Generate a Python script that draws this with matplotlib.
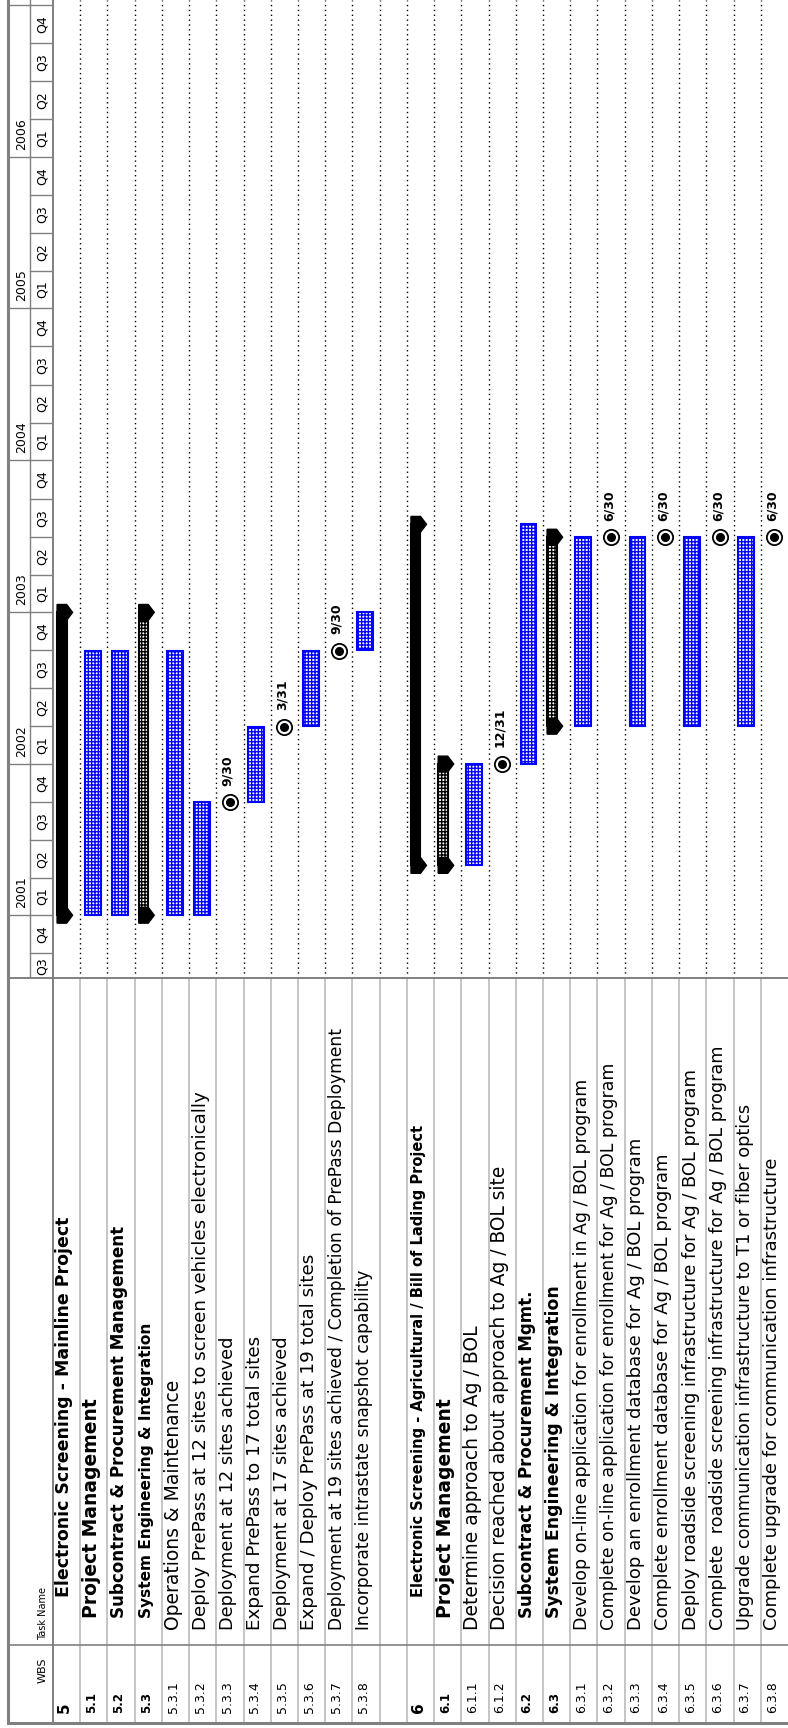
import datetime as dt
import matplotlib
matplotlib.use("Agg")
import matplotlib.pyplot as plt
import matplotlib.dates as mdates
from matplotlib.lines import Line2D
from matplotlib.patches import Polygon

D = dt.date

# ---- schedule data (one entry per table row, "" = empty row) ----
WBS = ["5", "5.1", "5.2", "5.3", "5.3.1", "5.3.2", "5.3.3", "5.3.4", "5.3.5",
       "5.3.6", "5.3.7", "5.3.8", "",
       "6", "6.1", "6.1.1", "6.1.2", "6.2", "6.3", "6.3.1", "6.3.2", "6.3.3",
       "6.3.4", "6.3.5", "6.3.6", "6.3.7", "6.3.8"]
TASKS = [
    "Electronic Screening - Mainline Project",
    "Project Management",
    "Subcontract & Procurement Management",
    "System Engineering & Integration",
    "Operations & Maintenance",
    "Deploy PrePass at 12 sites to screen vehicles electronically",
    "Deployment at 12 sites achieved",
    "Expand PrePass to 17 total sites",
    "Deployment at 17 sites achieved",
    "Expand / Deploy PrePass at 19 total sites",
    "Deployment at 19 sites achieved / Completion of PrePass Deployment",
    "Incorporate intrastate snapshot capability",
    "",
    "Electronic Screening - Agricultural / Bill of Lading Project",
    "Project Management",
    "Determine approach to Ag / BOL",
    "Decision reached about approach to Ag / BOL site",
    "Subcontract & Procurement Mgmt.",
    "System Engineering & Integration",
    "Develop on-line application for enrollment in Ag / BOL program",
    "Complete on-line application for enrollment for Ag / BOL program",
    "Develop an enrollment database for Ag / BOL program",
    "Complete enrollment database for Ag / BOL program",
    "Deploy roadside screening infrastructure for Ag / BOL program",
    "Complete  roadside screening infrastructure for Ag / BOL program",
    "Upgrade communication infrastructure to T1 or fiber optics",
    "Complete upgrade for communication infrastructure",
]
KIND = ["project", "task", "task", "summary", "task", "task", "milestone",
        "task", "milestone", "task", "milestone", "task", "",
        "project", "summary", "task", "milestone", "task", "summary",
        "task", "milestone", "task", "milestone", "task", "milestone",
        "task", "milestone"]
START = [D(2001, 1, 1), D(2001, 1, 1), D(2001, 1, 1), D(2001, 1, 1),
         D(2001, 1, 1), D(2001, 1, 1), None, D(2001, 10, 1), None,
         D(2002, 4, 1), None, D(2002, 10, 1), None,
         D(2001, 5, 1), D(2001, 5, 1), D(2001, 5, 1), None, D(2002, 1, 1),
         D(2002, 4, 1), D(2002, 4, 1), None, D(2002, 4, 1), None,
         D(2002, 4, 1), None, D(2002, 4, 1), None]
FINISH = [D(2002, 12, 31), D(2002, 9, 30), D(2002, 9, 30), D(2002, 12, 31),
          D(2002, 9, 30), D(2001, 9, 30), D(2001, 9, 30), D(2002, 3, 31),
          D(2002, 3, 31), D(2002, 9, 30), D(2002, 9, 30), D(2002, 12, 31), None,
          D(2003, 7, 31), D(2001, 12, 31), D(2001, 12, 31), D(2001, 12, 31),
          D(2003, 7, 31), D(2003, 6, 30), D(2003, 6, 30), D(2003, 6, 30),
          D(2003, 6, 30), D(2003, 6, 30), D(2003, 6, 30), D(2003, 6, 30),
          D(2003, 6, 30), D(2003, 6, 30)]
YEARS = [2001, 2002, 2003, 2004, 2005, 2006]
QUARTERS = ["Q1", "Q2", "Q3", "Q4"]
VIEW = (D(2000, 8, 3), D(2007, 1, 13))

# ---- styling (pixel lengths the task names span in the printout) ----
NAME_LEN = [379, 227, 393, 295, 272, 540, 293, 293, 293, 375, 598, 358, 0,
            459, 227, 333, 462, 327, 330, 547, 563, 490, 473, 557, 580, 522, 470]
NAME_PAD = [126, 105, 93]          # indent per outline level (px from bottom)
GRID = "#808080"
LIGHT = "#c0c0c0"
BLUE = "#0000ff"
CAP = 19                           # half-size of summary end caps, in days

W, H = 788, 1728
fig = plt.figure(figsize=(W / 100, H / 100), dpi=100)
fig.patch.set_facecolor("white")


def box(x0, y0, x1, y1):
    # pixel box (top-left origin) -> figure fraction rect
    return [x0 / W, 1 - y1 / H, (x1 - x0) / W, (y1 - y0) / H]


def fline(x0, y0, x1, y1, color=GRID, lw=1.0):
    fig.add_artist(Line2D([x0 / W, x1 / W], [1 - y0 / H, 1 - y1 / H],
                          transform=fig.transFigure, color=color, lw=lw))


nrows = len(WBS)
gantt = fig.add_axes(box(53, 0, 788, 978))
tscale = fig.add_axes(box(8, 0, 53, 978), sharey=gantt)
table = fig.add_axes(box(53, 978, 788, 1723), sharex=gantt)
thead = fig.add_axes(box(8, 978, 53, 1723))
for ax in (gantt, tscale, table, thead):
    ax.set_axis_off()

lo, hi = mdates.date2num(VIEW[0]), mdates.date2num(VIEW[1])
gantt.set_ylim(lo, hi)
gantt.set_xlim(0, 27)
tscale.set_xlim(0, 45)
table.set_ylim(0, 745)
thead.set_xlim(0, 45)
thead.set_ylim(0, 745)

# ---- gantt body ----
gantt.vlines(range(1, nrows), lo, hi, colors="black", lw=1.0,
             linestyles=[(0, (1, 2.5))])

for i, kind in enumerate(KIND):
    if not kind:
        continue
    f = mdates.date2num(FINISH[i])
    if kind == "milestone":
        gantt.plot(i + 0.49, f, marker="o", ms=11, mfc="white", mec="black",
                   mew=1.3, zorder=4)
        gantt.plot(i + 0.49, f, marker="o", ms=5.5, color="black", zorder=5)
        gantt.annotate(f"{FINISH[i].month}/{FINISH[i].day}", xy=(i + 0.42, f),
                       xytext=(0, 12), textcoords="offset points", rotation=90,
                       ha="center", va="bottom", fontsize=9, fontweight="bold")
        continue
    s = mdates.date2num(START[i])
    if kind == "task":
        gantt.bar(i + 0.47, f - s, bottom=s, width=0.58, facecolor="white",
                  edgecolor=BLUE, hatch="+++++", linewidth=1.5, zorder=3)
    else:
        solid = kind == "project"
        gantt.bar(i + 0.325, f - s, bottom=s, width=0.35,
                  facecolor="black" if solid else "white", edgecolor="black",
                  hatch=None if solid else "+++++", linewidth=1.5, zorder=3)
        for d in (s, f):
            gantt.add_patch(Polygon([(i + 0.15, d - CAP), (i + 0.5, d - CAP),
                                     (i + 0.72, d), (i + 0.5, d + CAP),
                                     (i + 0.15, d + CAP)],
                                    closed=True, color="black", zorder=4))

# ---- timescale header ----
tscale.axvline(22, color=GRID, lw=1.0)
q_starts = [D(y, m, 1) for y in range(2000, 2008) for m in (1, 4, 7, 10)]
for a, b in zip(q_starts[:-1], q_starts[1:]):
    na, nb = mdates.date2num(a), mdates.date2num(b)
    if lo < na < hi:
        tscale.plot([22, 45], [na, na], color=GRID, lw=1.0)
        if a.month == 1:
            tscale.plot([0, 22], [na, na], color=GRID, lw=1.0)
    va_, vb_ = max(na, lo), min(nb, hi)
    if vb_ - va_ > 20:
        tscale.text(34, (va_ + vb_) / 2, QUARTERS[(a.month - 1) // 3],
                    rotation=90, ha="center", va="center", fontsize=9)
for y in YEARS:
    tscale.annotate(str(y), xy=(14, mdates.date2num(D(y, 1, 1))),
                    xytext=(0, 5), textcoords="offset points", rotation=90,
                    ha="center", va="bottom", fontsize=9)

# ---- table ----
table.vlines(range(1, nrows), 0, 745, colors=LIGHT, lw=1.3)
table.axhline(78, color=GRID, lw=1.2)
thead.axhline(78, color=GRID, lw=1.2)
thead.text(35, 53, "WBS", rotation=90, ha="center", va="center", fontsize=8)
thead.text(35, 83, "Task Name", rotation=90, rotation_mode="anchor",
           ha="left", va="center", fontsize=7)

name_texts = []
for i, (code, name) in enumerate(zip(WBS, TASKS)):
    if not code:
        continue
    level = code.count(".")
    bold = level < 2
    wsize = 11 if level == 0 else (8.5 if level == 1 else 9)
    table.text(i + 0.42, 10, code, rotation=90, rotation_mode="anchor",
               ha="left", va="center", fontsize=wsize,
               fontweight="bold" if bold else "normal")
    t = table.text(i + 0.42, NAME_PAD[level], name, rotation=90,
                   rotation_mode="anchor", ha="left", va="center",
                   fontsize=12, fontweight="bold" if bold else "normal")
    name_texts.append((t, NAME_LEN[i]))

# scale each task name towards the length it has in the printout
fig.canvas.draw()
renderer = fig.canvas.get_renderer()
for t, target in name_texts:
    length = t.get_window_extent(renderer).height
    size = t.get_fontsize() * target / length
    t.set_fontsize(min(max(size, 10.5), 13.5))

# ---- frame lines ----
fline(8, 0, 8, 1723, lw=2.2)
fline(8, 1723, 788, 1723, lw=2.2)
fline(8, 978, 788, 978, lw=1.4)
fline(53, 0, 53, 1723, lw=1.4)

fig.savefig("out.png", dpi=100)
